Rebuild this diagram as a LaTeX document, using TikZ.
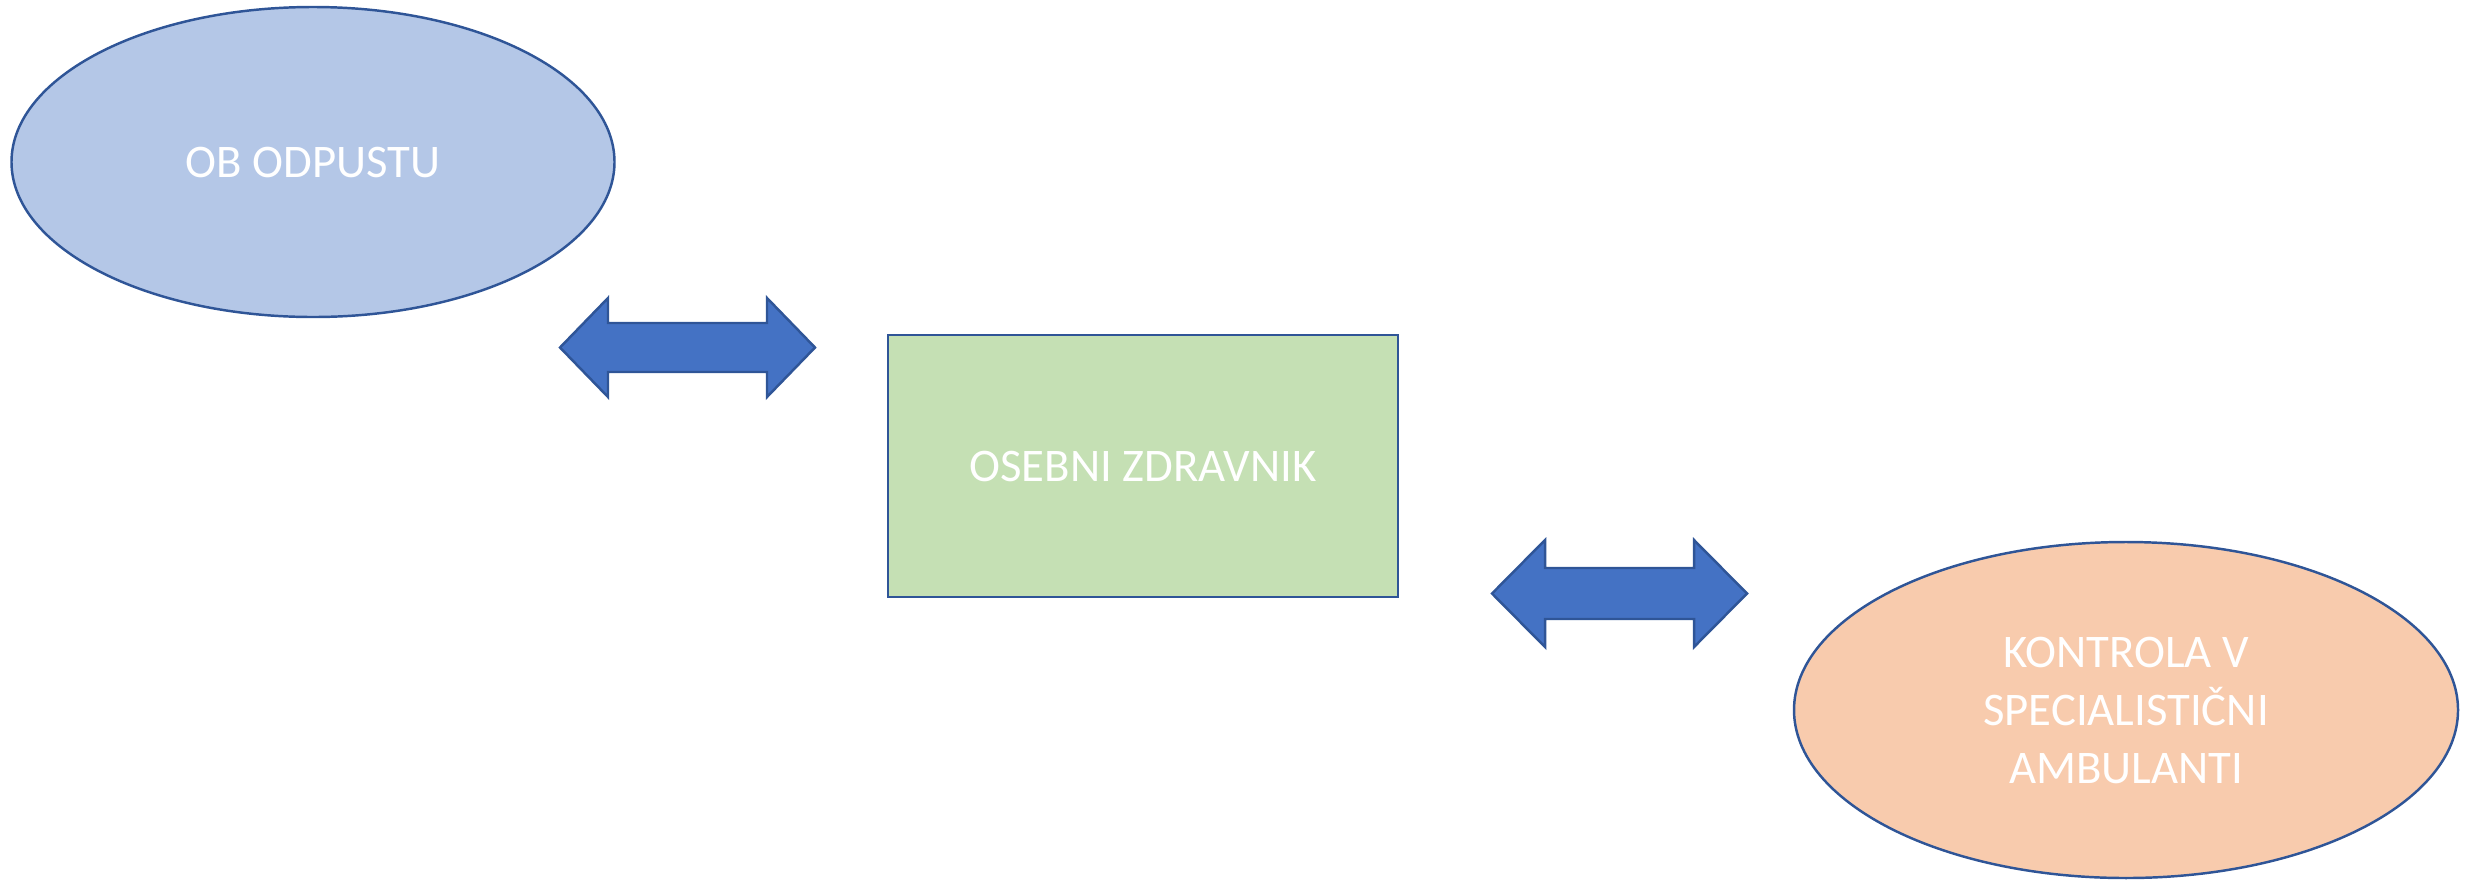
\documentclass[tikz,border=0pt]{standalone}
\usepackage{fontspec}
\setmainfont{Carlito}
\usetikzlibrary{shapes.geometric, positioning}
\definecolor{edgeblue}{HTML}{2F5597}
\definecolor{lightblue}{HTML}{B4C7E7}
\definecolor{lightgreen}{HTML}{C5E0B4}
\definecolor{lightorange}{HTML}{F8CBAD}
\definecolor{arrowblue}{HTML}{4472C4}
\tikzset{
    oval/.style={ellipse, draw=edgeblue, line width=0.7pt, text=white, align=center,
        font=\fontsize{13.3}{16.5}\selectfont, inner sep=0pt},
    box/.style={rectangle, draw=edgeblue, line width=0.7pt, text=white,
        font=\fontsize{13.3}{16.5}\selectfont, inner sep=0pt},
    blockarrow/.style={draw=edgeblue, fill=arrowblue, line width=0.7pt, line join=miter}
}

\begin{document}
\begin{tikzpicture}

    \useasboundingbox (0,0) rectangle (24.75,8.79);

    % Draw the three stations.
    \node[oval, fill=lightblue, minimum width=6.03cm, minimum height=3.10cm]
        (odpust) at (3.13,7.17) {OB ODPUSTU};
    \node[box, fill=lightgreen, minimum width=5.10cm, minimum height=2.62cm]
        (zdravnik) at (11.43,4.13) {OSEBNI ZDRAVNIK};
    \node[oval, fill=lightorange, minimum width=6.64cm, minimum height=3.36cm]
        (kontrola) at (21.26,1.69) {KONTROLA V\\SPECIALISTIČNI\\AMBULANTI};

    % Draw block arrow between $odpust$ and $zdravnik$.
    \draw[blockarrow] (5.60,5.315) -- (6.08,5.81) -- (6.08,5.56) -- (7.67,5.56)
        -- (7.67,5.81) -- (8.15,5.315) -- (7.67,4.82) -- (7.67,5.07)
        -- (6.08,5.07) -- (6.08,4.82) -- cycle;

    % Draw block arrow between $zdravnik$ and $kontrola$.
    \draw[blockarrow] (14.92,2.855) -- (15.45,3.39) -- (15.45,3.11) -- (16.94,3.11)
        -- (16.94,3.39) -- (17.47,2.855) -- (16.94,2.32) -- (16.94,2.60)
        -- (15.45,2.60) -- (15.45,2.32) -- cycle;

\end{tikzpicture}
\end{document}
